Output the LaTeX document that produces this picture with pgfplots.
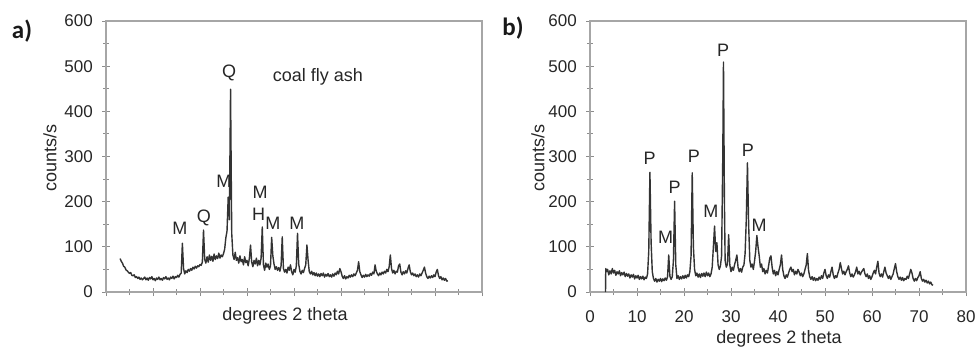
\documentclass[border=0pt]{standalone}
\usepackage{fontspec}
\setmainfont{Liberation Sans}
\newfontfamily\panelfont{Carlito}
\usepackage{pgfplots}
\usepackage{pgfplotstable}
\pgfplotsset{compat=1.18}

\pgfplotstableread{
x y
3.00 74
3.25 68
3.50 64
3.75 57
4.00 55
4.25 49
4.50 47
4.75 44
5.00 41
5.25 43
5.50 37
5.75 36
6.00 38
6.25 32
6.50 34
6.75 30
7.00 33
7.25 28
7.50 31
7.75 27
8.00 30
8.25 33
8.50 27
8.75 31
9.00 26
9.25 32
9.50 29
9.75 34
10.00 27
10.25 30
10.50 25
10.75 31
11.00 28
11.25 33
11.50 27
11.75 30
12.00 26
12.25 32
12.50 29
12.75 34
13.00 28
13.25 31
13.50 27
13.75 33
14.00 30
14.25 35
14.50 29
14.75 34
15.00 32
15.25 37
15.50 33
15.75 39
16.00 42
16.25 108
16.50 52
16.75 40
17.00 47
17.25 43
17.50 50
17.75 46
18.00 52
18.25 48
18.50 55
18.75 51
19.00 57
19.25 53
19.50 58
19.75 56
20.00 61
20.25 59
20.50 66
20.75 137
21.00 72
21.25 64
21.50 78
21.75 66
22.00 82
22.25 70
22.50 79
22.75 68
23.00 84
23.25 72
23.50 80
23.75 74
24.00 86
24.25 75
24.50 82
24.75 78
25.00 85
25.25 95
25.50 120
25.75 135
26.00 210
26.25 160
26.50 449
26.75 130
27.00 82
27.25 72
27.50 88
27.75 70
28.00 76
28.25 64
28.50 80
28.75 67
29.00 72
29.25 60
29.50 78
29.75 65
30.00 70
30.25 58
30.50 74
30.75 104
31.00 66
31.25 56
31.50 70
31.75 62
32.00 75
32.25 58
32.50 70
32.75 60
33.00 75
33.25 144
33.50 60
33.75 48
34.00 64
34.25 55
34.50 62
34.75 50
35.00 58
35.25 121
35.50 80
35.75 62
36.00 50
36.25 56
36.50 48
36.75 54
37.00 46
37.25 58
37.50 122
37.75 52
38.00 44
38.25 50
38.50 42
38.75 55
39.00 48
39.25 60
39.50 45
39.75 38
40.00 50
40.25 44
40.50 58
40.75 130
41.00 62
41.25 46
41.50 40
41.75 48
42.00 43
42.25 52
42.50 60
42.75 104
43.00 70
43.25 45
43.50 40
43.75 46
44.00 38
44.25 43
44.50 36
44.75 42
45.00 35
45.25 40
45.50 34
45.75 41
46.00 36
46.25 42
46.50 33
46.75 39
47.00 35
47.25 41
47.50 34
47.75 38
48.00 33
48.25 40
48.50 35
48.75 42
49.00 38
49.25 46
49.50 40
49.75 52
50.00 45
50.25 35
50.50 30
50.75 36
51.00 29
51.25 34
51.50 31
51.75 37
52.00 33
52.25 38
52.50 34
52.75 40
53.00 36
53.25 42
53.50 48
53.75 67
54.00 45
54.25 38
54.50 32
54.75 37
55.00 33
55.25 39
55.50 34
55.75 38
56.00 35
56.25 41
56.50 37
56.75 44
57.00 40
57.25 60
57.50 46
57.75 40
58.00 36
58.25 42
58.50 38
58.75 44
59.00 40
59.25 46
59.50 42
59.75 50
60.00 45
60.25 56
60.50 82
60.75 52
61.00 42
61.25 48
61.50 40
61.75 46
62.00 44
62.25 58
62.50 62
62.75 44
63.00 38
63.25 45
63.50 40
63.75 47
64.00 42
64.25 52
64.50 60
64.75 45
65.00 38
65.25 42
65.50 36
65.75 40
66.00 34
66.25 38
66.50 33
66.75 40
67.00 36
67.25 42
67.50 48
67.75 55
68.00 42
68.25 34
68.50 30
68.75 35
69.00 31
69.25 36
69.50 32
69.75 38
70.00 34
70.25 44
70.50 50
70.75 36
71.00 30
71.25 34
71.50 27
71.75 31
72.00 26
72.25 30
72.50 24
72.75 25
}\dataA

\pgfplotstableread{
x y
3.30 0
3.35 52
3.50 45
3.75 50
4.00 38
4.25 47
4.50 40
4.75 52
5.00 42
5.25 48
5.50 37
5.75 45
6.00 40
6.25 47
6.50 36
6.75 43
7.00 38
7.25 44
7.50 34
7.75 41
8.00 35
8.25 40
8.50 31
8.75 38
9.00 33
9.25 39
9.50 29
9.75 36
10.00 31
10.25 37
10.50 28
10.75 34
11.00 29
11.25 35
11.50 27
11.75 33
12.00 30
12.25 40
12.50 90
12.75 265
13.00 110
13.25 45
13.50 30
13.75 24
14.00 30
14.25 22
14.50 28
14.75 24
15.00 30
15.25 23
15.50 29
15.75 25
16.00 31
16.25 26
16.50 34
16.75 82
17.00 35
17.25 28
17.50 34
17.75 70
18.00 201
18.25 60
18.50 30
18.75 36
19.00 28
19.25 34
19.50 29
19.75 36
20.00 30
20.25 37
20.50 31
20.75 38
21.00 34
21.25 45
21.50 80
21.75 264
22.00 100
22.25 50
22.50 36
22.75 42
23.00 33
23.25 40
23.50 32
23.75 41
24.00 35
24.25 42
24.50 34
24.75 44
25.00 36
25.25 42
25.50 34
25.75 40
26.00 55
26.25 100
26.50 146
26.75 90
27.00 109
27.25 60
27.50 50
27.75 58
28.00 80
28.25 300
28.40 509
28.60 200
28.75 70
29.00 55
29.25 62
29.50 127
29.75 60
30.00 45
30.25 55
30.50 48
30.75 60
31.00 70
31.25 82
31.50 55
31.75 45
32.00 52
32.25 44
32.50 55
32.75 60
33.00 85
33.25 160
33.50 286
33.75 150
34.00 70
34.25 55
34.50 62
34.75 50
35.00 68
35.25 90
35.50 125
35.75 100
36.00 80
36.25 55
36.50 62
36.75 45
37.00 52
37.25 40
37.50 48
37.75 42
38.00 58
38.25 75
38.50 80
38.75 55
39.00 40
39.25 48
39.50 36
39.75 45
40.00 38
40.25 50
40.50 60
40.75 82
41.00 50
41.25 36
41.50 30
41.75 38
42.00 33
42.25 42
42.50 50
42.75 55
43.00 45
43.25 50
43.50 38
43.75 46
44.00 40
44.25 50
44.50 44
44.75 36
45.00 42
45.25 34
45.50 40
45.75 50
46.00 60
46.25 85
46.50 48
46.75 34
47.00 28
47.25 34
47.50 26
47.75 32
48.00 25
48.25 30
48.50 26
48.75 33
49.00 28
49.25 36
49.50 30
49.75 42
50.00 50
50.25 36
50.50 30
50.75 38
51.00 33
51.25 45
51.50 55
51.75 38
52.00 30
52.25 36
52.50 32
52.75 42
53.00 50
53.25 65
53.50 52
53.75 40
54.00 46
54.25 38
54.50 45
54.75 50
55.00 58
55.25 42
55.50 34
55.75 40
56.00 33
56.25 38
56.50 45
56.75 55
57.00 40
57.25 46
57.50 38
57.75 44
58.00 48
58.25 52
58.50 40
58.75 34
59.00 40
59.25 30
59.50 36
59.75 28
60.00 34
60.25 42
60.50 48
60.75 40
61.00 55
61.25 68
61.50 42
61.75 34
62.00 40
62.25 33
62.50 45
62.75 55
63.00 42
63.25 36
63.50 30
63.75 36
64.00 28
64.25 34
64.50 40
64.75 52
65.00 63
65.25 45
65.50 34
65.75 28
66.00 33
66.25 26
66.50 32
66.75 25
67.00 30
67.25 28
67.50 35
67.75 30
68.00 40
68.25 50
68.50 42
68.75 30
69.00 24
69.25 30
69.50 25
69.75 32
70.00 36
70.25 45
70.50 30
70.75 24
71.00 28
71.25 22
71.50 26
71.75 20
72.00 24
72.25 18
72.50 22
72.75 16
73.00 15
}\dataB

\newcommand{\lab}{\fontsize{18}{21}\selectfont}
\newcommand{\tlab}{\fontsize{17}{20}\selectfont}

\tikzset{pk/.style={font=\lab, text=black!85}}

\pgfplotsset{
  xrd/.style={
    scale only axis,
    anchor=south west,
    height=271pt,
    xmin=0, xmax=80, ymin=0, ymax=600,
    xtick={0,10,...,80}, minor x tick num=1,
    ytick={0,100,...,600}, minor y tick num=1,
    tick pos=left,
    tick align=center,
    major tick length=8pt,
    minor tick length=6pt,
    every tick/.style={draw=black!45, line width=0.9pt},
    axis line style={draw=black!35, line width=1.3pt},
    /pgf/number format/assume math mode=true,
    tick label style={font=\tlab, text=black!85},
    yticklabel style={anchor=east, inner sep=0pt, xshift=-9pt},
    xticklabel style={anchor=north, inner sep=0pt, yshift=-14pt},
    clip=false,
  },
}

\begin{document}
\begin{tikzpicture}[x=1pt,y=1pt]
\path[use as bounding box] (0,0) rectangle (976,348);

\begin{axis}[xrd, at={(106pt,56pt)}, width=376pt, xticklabels={}]
\addplot[black!80, line width=1.4pt, line join=round] table {\dataA};
\node[pk] at (axis cs:15.7,140) {M};
\node[pk] at (axis cs:20.85,163) {Q};
\node[pk] at (axis cs:25.1,244) {M};
\node[pk] at (axis cs:26.2,486) {Q};
\node[pk] at (axis cs:32.8,221) {M};
\node[pk] at (axis cs:32.5,173) {H};
\node[pk] at (axis cs:35.5,151) {M};
\node[pk] at (axis cs:40.6,151) {M};
\node[pk] at (axis cs:45.1,476) {coal fly ash};
\end{axis}

\begin{axis}[xrd, at={(590pt,56pt)}, width=376pt]
\addplot[black!80, line width=1.4pt, line join=round] table {\dataB};
\node[pk] at (axis cs:12.7,297) {P};
\node[pk] at (axis cs:16.1,121) {M};
\node[pk] at (axis cs:18.0,232) {P};
\node[pk] at (axis cs:22.1,301) {P};
\node[pk] at (axis cs:25.7,179) {M};
\node[pk] at (axis cs:28.35,536) {P};
\node[pk] at (axis cs:33.6,314) {P};
\node[pk] at (axis cs:36.0,148) {M};
\end{axis}

\node[font=\lab, text=black!85, anchor=base] at (285,28) {degrees 2 theta};
\node[font=\lab, text=black!85, anchor=base] at (779,4.5) {degrees 2 theta};
\node[font=\lab, text=black!85, rotate=90] at (50,190) {counts/s};
\node[font=\lab, text=black!85, rotate=90] at (538,190) {counts/s};
\node[font=\panelfont\bfseries\fontsize{25}{28}\selectfont, text=black!90] at (22,317) {a)};
\node[font=\panelfont\bfseries\fontsize{25}{28}\selectfont, text=black!90] at (513,320) {b)};
\end{tikzpicture}
\end{document}
